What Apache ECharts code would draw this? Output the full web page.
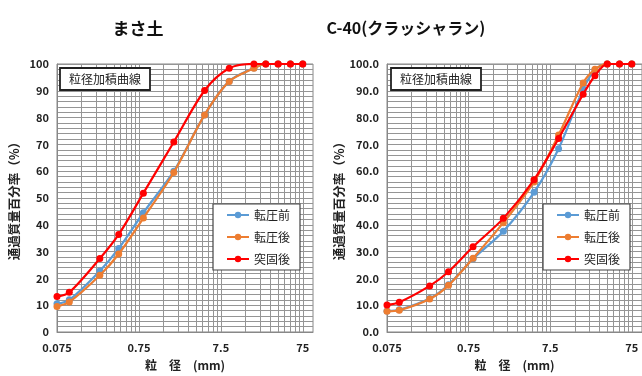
<!DOCTYPE html>
<html><head><meta charset="utf-8">
<script src="https://cdn.jsdelivr.net/npm/echarts@6/dist/echarts.min.js"></script>
<style>html,body{margin:0;padding:0;background:#fff}#c{width:642px;height:376px}</style>
</head><body><div id="c"></div>
<script>
const sieveSizes = [0.075, 0.106, 0.25, 0.425, 0.85, 2, 4.75, 9.5, 19, 26.5, 37.5, 53, 75];
const masaBefore = [10.5, 12, 22.8, 31.2, 44.5, 60, 81, 93.6, 98.5, 100, 100, 100, 100];
const masaAfter  = [9.5, 11.2, 21.2, 29.1, 42.5, 59.5, 81, 93.5, 98.4, 100, 100, 100, 100];
const masaTamped = [13.2, 14.8, 27.4, 36.4, 51.8, 70.9, 90.1, 98.4, 100, 100, 100, 100, 100];
const c40Before  = [7.8, 8.3, 12.5, 17.6, 27.3, 37.6, 52.1, 68.4, 90.6, 97.8, 100, 100, 100];
const c40After   = [7.7, 8.1, 12.3, 17.4, 27.5, 40.8, 56, 73.5, 92.9, 98, 100, 100, 100];
const c40Tamped  = [10.1, 11.1, 17.2, 22.5, 31.8, 42.4, 56.8, 72.2, 88.7, 95.6, 100, 100, 100];
const xTickLabels = [0.075, 0.75, 7.5, 75];
const seriesNames = ['転圧前', '転圧後', '突固後'];
const panelTitles = ['まさ土', 'C-40(クラッシャラン)'];
const boxLabel = '粒径加積曲線';
const xName = '粒　径　(mm)';
const yName = '通過質量百分率（%）';

const colors = ['#5B9BD5', '#ED7D31', '#FF0000'];
const xMax = 100;
const gridLinesX = [];
xTickLabels.forEach(d => { for (let k = 1; k <= 9; k++) { const v = d * k; if (v < xMax) gridLinesX.push(v); } });

const grids = [
  {left: 57, top: 64, width: 256, height: 274},
  {left: 387, top: 64, width: 255, height: 274}
];
const font = 'Noto Sans CJK JP';
function xAxis(i) {
  return {
    type: 'log', gridIndex: i, min: 0.075, max: xMax, logBase: 10,
    name: xName, nameLocation: 'middle', nameGap: 27,
    nameTextStyle: {fontFamily: font, fontSize: 12, fontWeight: 'bold', color: '#222'},
    axisLine: {lineStyle: {color: '#888', width: 1}},
    axisTick: {show: false, customValues: gridLinesX},
    axisLabel: {customValues: xTickLabels, formatter: v => String(+v.toPrecision(3)),
      fontFamily: font, fontSize: 11, fontWeight: 'bold', color: '#222', margin: 10},
    splitLine: {show: true, lineStyle: {color: '#959595', width: 1}}
  };
}
function yAxis(i, dec) {
  return {
    type: 'value', gridIndex: i, min: 0, max: 100, interval: 10,
    name: yName, nameLocation: 'middle', nameGap: dec ? 40 : 36, nameRotate: 90,
    nameTextStyle: {fontFamily: font, fontSize: 12.5, fontWeight: 'bold', color: '#222'},
    axisLine: {show: true, lineStyle: {color: '#888', width: 1}},
    axisTick: {show: false},
    minorTick: {show: false, splitNumber: 5},
    axisLabel: {formatter: v => dec ? v.toFixed(1) : String(v), fontFamily: font, fontSize: 11,
      fontWeight: 'bold', color: '#222', margin: 8},
    splitLine: {show: true, lineStyle: {color: '#959595', width: 1}},
    minorSplitLine: {show: true, lineStyle: {color: '#959595', width: 1}}
  };
}
function mkSeries(i, arr, k) {
  return {
    type: 'line', name: seriesNames[k], xAxisIndex: i, yAxisIndex: i,
    data: sieveSizes.map((s, j) => [s, arr[j]]),
    smooth: 0.3, symbol: 'circle', symbolSize: 7, showSymbol: true,
    lineStyle: {width: 2.2, color: colors[k]}, itemStyle: {color: colors[k]},
    z: 3 + k, animation: false
  };
}
function legend(left) {
  return {
    orient: 'vertical', left: left, top: 204, data: seriesNames,
    backgroundColor: '#fff', borderColor: '#444', borderWidth: 1.2,
    padding: [4, 10, 4, 13], itemWidth: 22, itemHeight: 8, itemGap: 8,
    textStyle: {fontFamily: font, fontSize: 12, color: '#222', lineHeight: 14}
  };
}
const chart = echarts.init(document.getElementById('c'), null, {renderer: 'canvas'});
chart.setOption({
  animation: false,
  color: colors,
  title: [
    {text: panelTitles[0], left: 133, top: 15, textAlign: 'center',
      textStyle: {fontFamily: font, fontSize: 17, fontWeight: 'bold', color: '#111'}},
    {text: panelTitles[1], left: 401, top: 15, textAlign: 'center',
      textStyle: {fontFamily: font, fontSize: 16, fontWeight: 'bold', color: '#111'}},
    {text: boxLabel, left: 60, top: 68, padding: [4, 9], backgroundColor: '#fff',
      borderColor: '#222', borderWidth: 1.8,
      textStyle: {fontFamily: font, fontSize: 12, fontWeight: 'normal', color: '#222', lineHeight: 14}},
    {text: boxLabel, left: 391, top: 68, padding: [4, 9], backgroundColor: '#fff',
      borderColor: '#222', borderWidth: 1.8,
      textStyle: {fontFamily: font, fontSize: 12, fontWeight: 'normal', color: '#222', lineHeight: 14}}
  ],
  legend: [legend(213), legend(543)],
  grid: grids.map(g => Object.assign({show: true, borderColor: '#888', borderWidth: 1, backgroundColor: 'transparent'}, g)),
  xAxis: [xAxis(0), xAxis(1)],
  yAxis: [yAxis(0, false), yAxis(1, true)],
  series: [
    mkSeries(0, masaBefore, 0), mkSeries(0, masaAfter, 1), mkSeries(0, masaTamped, 2),
    mkSeries(1, c40Before, 0), mkSeries(1, c40After, 1), mkSeries(1, c40Tamped, 2)
  ]
});
</script></body></html>
